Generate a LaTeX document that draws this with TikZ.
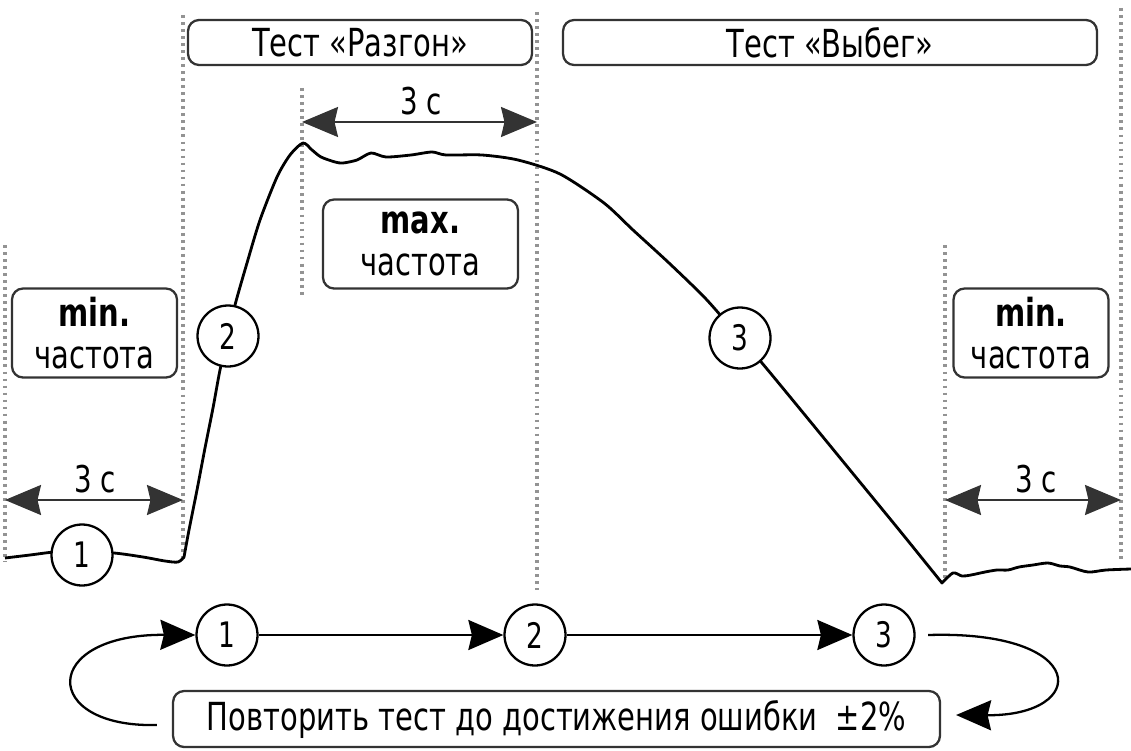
\documentclass[tikz,border=0pt]{standalone}
\usepackage{fontspec}
\setmainfont[FakeStretch=0.75]{DejaVu Sans}
\usetikzlibrary{arrows.meta}
\begin{document}
\begin{tikzpicture}[x=0.02cm, y=-0.02cm,
  guide/.style={draw=gray!85, line width=1.9pt, dash pattern=on 1.6pt off 2.4pt},
  lbox/.style={draw=black!80, line width=1.3pt, rounded corners=0.22cm, inner sep=0pt, align=center, font=\fontsize{22}{24}\selectfont},
  num/.style={circle, draw=black, line width=1.3pt, fill=white, minimum size=1.22cm, inner sep=0pt, font=\fontsize{20}{20}\selectfont},
  bigtip/.style={-{Stealth[length=0.7cm,width=0.6cm,inset=0.07cm]}, line width=1.3pt},
  dimarrow/.style={{Stealth[length=0.72cm,width=0.6cm,inset=0.07cm]}-{Stealth[length=0.72cm,width=0.6cm,inset=0.07cm]}, line width=1.2pt, draw=black!80},
  dimlabel/.style={font=\fontsize{21}{21}\selectfont, inner sep=0pt},
  curve/.style={draw=black, line width=1.6pt, line join=round},
]
\useasboundingbox (0,0) rectangle (1131,750);

% guide lines
\coordinate (gA1) at (5,245);   \coordinate (gA2) at (5,562);
\coordinate (gB1) at (183,15);  \coordinate (gB2) at (183,560);
\coordinate (gC1) at (302,88);  \coordinate (gC2) at (302,297);
\coordinate (gD1) at (537,12);  \coordinate (gD2) at (537,590);
\coordinate (gE1) at (945,245); \coordinate (gE2) at (945,580);
\coordinate (gF1) at (1121,8);  \coordinate (gF2) at (1121,562);
\foreach \g in {A,B,C,D,E,F} \draw[guide] (g\g1) -- (g\g2);

% header boxes
\node[lbox, minimum width=6.88cm, minimum height=0.9cm] (razgon) at (360,42.5) {Тест «Разгон»};
\node[lbox, minimum width=10.68cm, minimum height=0.9cm] (vybeg) at (830,42.5) {Тест «Выбег»};

% frequency boxes
\node[lbox, minimum width=3.9cm, minimum height=1.78cm] (maxf) at (420.5,244) {\textbf{max.}\\частота};
\node[lbox, minimum width=3.3cm, minimum height=1.78cm] (minL) at (94.5,333) {\textbf{min.}\\частота};
\node[lbox, minimum width=3.1cm, minimum height=1.78cm] (minR) at (1031,333) {\textbf{min.}\\частота};

% 3 s dimension arrows
\coordinate (dT1) at (302,122); \coordinate (dT2) at (537,122);
\draw[dimarrow] (dT1) -- (dT2);
\node[dimlabel] (lT) at (421,101) {3 с};
\coordinate (dL1) at (5,500); \coordinate (dL2) at (183,500);
\draw[dimarrow] (dL1) -- (dL2);
\node[dimlabel] (lL) at (95,479) {3 с};
\coordinate (dR1) at (945,500); \coordinate (dR2) at (1121,500);
\draw[dimarrow] (dR1) -- (dR2);
\node[dimlabel] (lR) at (1036,479) {3 с};

% frequency curve
\draw[curve] plot[smooth, tension=0.5] coordinates {(5,558) (30,555) (55,552) (82,552) (114,553) (143,557) (165,561) (178,562) (184,557)}
  -- plot[smooth, tension=0.45] coordinates {(184,557) (189,530) (197,490) (205,448) (213,408) (220,370) (228,336) (235,305) (247,263) (260,220) (277,177) (290,155) (303,143) (312,150) (321,157) (335,162) (343,163) (357,160) (371,153) (386,157) (411,155) (432,152) (446,155) (482,155) (518,160) (560,174) (604,203) (633,230) (669,263) (706,299) (740,338) (762,363) (800,409) (850,470) (900,531) (942,583)}
  -- plot[smooth, tension=0.5] coordinates {(942,583) (953,573) (962,576) (971,575) (985,572) (997,570) (1008,570) (1019,567) (1033,565) (1048,563) (1060,566) (1070,567) (1088,572) (1106,570) (1131,569)};

\node[num] (c1) at (82,555) {1};
\node[num] (c2) at (228,336) {2};
\node[num] (c3) at (740,338) {3};

% bottom cycle
\node[num] (b1) at (227,635) {1};
\node[num] (b2) at (535,635) {2};
\node[num] (b3) at (884,635) {3};
\node[lbox, minimum width=15.34cm, minimum height=1.12cm] (rep) at (556.5,719) {Повторить тест до достижения ошибки \ ±2\%};

\draw[bigtip] (b1) -- (b2);
\draw[bigtip] (b2) -- (b3);
\draw[bigtip] ([xshift=-0.3cm,yshift=-0.12cm]rep.west) .. controls (40,728) and (40,634) .. (b1.west);
\draw[bigtip] ([xshift=0.25cm]b3.east) .. controls (1090,630) and (1090,716) .. ([xshift=0.3cm,yshift=0.08cm]rep.east);
\end{tikzpicture}
\end{document}
